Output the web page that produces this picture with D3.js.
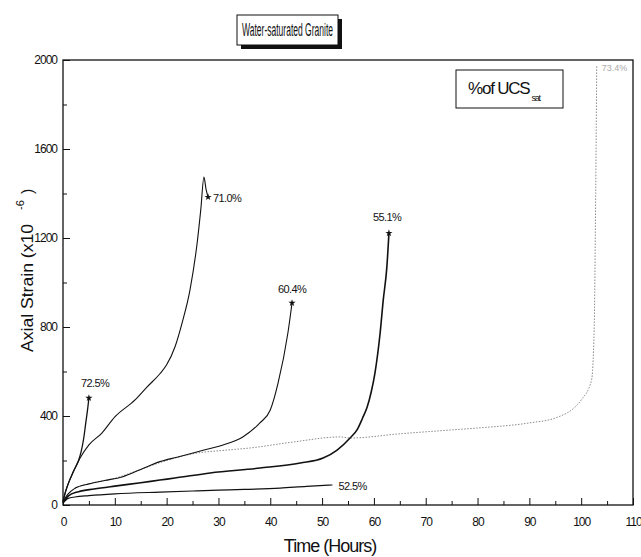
<!DOCTYPE html>
<html>
<head>
<meta charset="utf-8">
<script src="https://d3js.org/d3.v7.min.js"></script>
<style>
  body { margin: 0; background: #fff; }
  svg text { font-family: "Liberation Sans Narrow", "Liberation Sans", Arial, sans-serif; fill: #111; }
  .tick text { fill: #111; }
  .tick line { stroke: #111; }
</style>
</head>
<body>
<div id="chart"></div>
<script>
// creep curves, time in hours, axial strain in x10^-6
var t725 = [0, 0.5, 1, 2, 3, 3.5, 4, 4.4, 4.8, 5.0];
var s725 = [15, 60, 95, 150, 200, 240, 300, 370, 440, 481];

var t710 = [0, 0.4, 1, 2, 3.3, 5, 7.5, 10, 13.9, 16.2, 18.7, 20, 21.6, 23, 24.5, 25.9, 26.6, 27.2, 27.6, 28];
var s710 = [15, 54, 95, 150, 211, 270, 323, 396, 472, 530, 590, 630, 710, 820, 966, 1180, 1330, 1474, 1420, 1384];

var t604 = [0, 1, 2.3, 5, 8, 11.4, 15, 18.7, 22, 25.1, 28, 30.9, 34.7, 38, 40, 41.5, 43.4, 44.2];
var s604 = [15, 50, 75, 95, 110, 126, 160, 195, 215, 234, 252, 270, 306, 369, 427, 548, 773, 908];

var t551 = [0, 1, 3, 6, 10, 15, 18.7, 21.6, 28.4, 38, 45.8, 50.2, 52.9, 55.4, 56.8, 57.8, 58.7, 59.5, 60.2, 61.2, 61.8, 62.5, 62.9];
var s551 = [10, 40, 60, 72, 85, 100, 112, 121, 144, 166, 189, 211, 247, 301, 340, 390, 440, 510, 593, 773, 921, 1070, 1222];

var t525 = [0, 1, 2.3, 5, 10, 18.7, 25, 30, 35, 41.9, 47, 52];
var s525 = [10, 30, 36, 42, 50, 58, 63, 67, 70, 76, 84, 90];

var t734 = [0, 1, 2, 5, 10, 15, 20, 25, 31.7, 36, 44.4, 53.5, 55.4, 65, 74.7, 80, 90, 95, 100, 102, 102.5, 102.8, 103];
var s734 = [15, 50, 70, 95, 120, 160, 200, 230, 247, 256, 283, 306, 301, 320, 337, 346, 369, 391, 472, 562, 786, 1400, 1978];

var xTicks = [0, 10, 20, 30, 40, 50, 60, 70, 80, 90, 100, 110];
var yTicks = [0, 400, 800, 1200, 1600, 2000];

var width = 641, height = 557;
var margin = {left: 63, right: 633, top: 60, bottom: 505};

var svg = d3.select("#chart").append("svg")
  .attr("width", width)
  .attr("height", height);

var x = d3.scaleLinear().domain([0, 110]).range([margin.left, margin.right]);
var y = d3.scaleLinear().domain([0, 2000]).range([margin.bottom, margin.top]);

// frame
svg.append("rect")
  .attr("x", margin.left).attr("y", margin.top)
  .attr("width", margin.right - margin.left).attr("height", margin.bottom - margin.top)
  .attr("fill", "none").attr("stroke", "#111").attr("stroke-width", 1.3);

// x axis, ticks pointing in
var xMinor = d3.range(5, 110, 10);
svg.append("g")
  .attr("transform", "translate(0," + margin.bottom + ")")
  .call(d3.axisBottom(x).tickValues(xMinor).tickSize(-4).tickFormat(""))
  .call(function(g) { g.select(".domain").remove(); });
var gx = svg.append("g")
  .attr("transform", "translate(0," + margin.bottom + ")")
  .call(d3.axisBottom(x).tickValues(xTicks).tickSize(-7).tickPadding(12));
gx.select(".domain").remove();
gx.selectAll("text").attr("font-size", 12).attr("y", 12).style("letter-spacing", "-1px");

// y axis
var yMinor = d3.range(200, 2000, 400);
svg.append("g")
  .attr("transform", "translate(" + margin.left + ",0)")
  .call(d3.axisLeft(y).tickValues(yMinor).tickSize(-4).tickFormat(""))
  .call(function(g) { g.select(".domain").remove(); });
var gy = svg.append("g")
  .attr("transform", "translate(" + margin.left + ",0)")
  .call(d3.axisLeft(y).tickValues(yTicks).tickSize(-7).tickFormat(d3.format("d")));
gy.select(".domain").remove();
gy.selectAll("text").attr("font-size", 12).attr("x", -6).style("letter-spacing", "-1px");

// curves
var line = d3.line()
  .x(function(d) { return x(d[0]); })
  .y(function(d) { return y(d[1]); })
  .curve(d3.curveMonotoneX);

function pairs(t, s) { return t.map(function(v, i) { return [v, s[i]]; }); }

var series = [
  { t: t734, s: s734, color: "#8a8a8a", w: 1, dash: "1.5,1.5" },
  { t: t525, s: s525, color: "#111", w: 1.2 },
  { t: t551, s: s551, color: "#111", w: 1.6 },
  { t: t604, s: s604, color: "#111", w: 1.1 },
  { t: t710, s: s710, color: "#111", w: 1.1 },
  { t: t725, s: s725, color: "#111", w: 1.3 }
];

series.forEach(function(d) {
  svg.append("path")
    .datum(pairs(d.t, d.s))
    .attr("fill", "none")
    .attr("stroke", d.color)
    .attr("stroke-width", d.w)
    .attr("stroke-dasharray", d.dash || null)
    .attr("d", line);
});

// failure stars at the curve ends
var stars = [[t725, s725], [t710, s710], [t604, s604], [t551, s551]];
stars.forEach(function(p) {
  var n = p[0].length - 1;
  svg.append("path")
    .attr("d", d3.symbol(d3.symbolStar).size(16))
    .attr("transform", "translate(" + x(p[0][n]) + "," + y(p[1][n]) + ")")
    .attr("fill", "#111");
});

// curve labels
var labels = [
  { text: "72.5%", t: t725, s: s725, dx: -8, dy: -11 },
  { text: "71.0%", t: t710, s: s710, dx: 5, dy: 5 },
  { text: "60.4%", t: t604, s: s604, dx: -14, dy: -10 },
  { text: "55.1%", t: t551, s: s551, dx: -16, dy: -12 },
  { text: "52.5%", t: t525, s: s525, dx: 6, dy: 5 }
];
labels.forEach(function(d) {
  var n = d.t.length - 1;
  svg.append("text")
    .attr("x", x(d.t[n]) + d.dx)
    .attr("y", y(d.s[n]) + d.dy)
    .attr("font-size", 11)
    .style("letter-spacing", "-0.6px")
    .text(d.text);
});
svg.append("text")
  .attr("x", x(t734[t734.length - 1]) + 5)
  .attr("y", y(s734[s734.length - 1]) + 6)
  .attr("font-size", 9)
  .style("fill", "#aaa")
  .text("73.4%");

// title box with shadow
svg.append("rect").attr("x", 241).attr("y", 19).attr("width", 101).attr("height", 30).attr("fill", "#111");
svg.append("rect").attr("x", 237).attr("y", 15).attr("width", 101).attr("height", 30)
  .attr("fill", "#fff").attr("stroke", "#111").attr("stroke-width", 1);
svg.append("text").attr("x", 242).attr("y", 36)
  .attr("font-size", 18)
  .attr("textLength", 91).attr("lengthAdjust", "spacingAndGlyphs")
  .text("Water-saturated Granite");

// legend box
svg.append("rect").attr("x", 456).attr("y", 70).attr("width", 107).attr("height", 38)
  .attr("fill", "#fff").attr("stroke", "#111").attr("stroke-width", 1);
var lg = svg.append("text").attr("x", 468).attr("y", 94).attr("font-size", 17).style("letter-spacing", "-1.2px");
lg.append("tspan").text("%of UCS");
lg.append("tspan").attr("font-size", 9).attr("dy", 7).attr("dx", 2).text("sat");

// axis titles
svg.append("text")
  .attr("x", 330).attr("y", 552)
  .attr("text-anchor", "middle")
  .attr("font-size", 18)
  .style("letter-spacing", "-1px")
  .text("Time (Hours)");

svg.append("text")
  .attr("transform", "translate(33,352) rotate(-90)")
  .attr("font-size", 16)
  .attr("textLength", 128).attr("lengthAdjust", "spacingAndGlyphs")
  .text("Axial Strain (x10");
svg.append("text")
  .attr("transform", "translate(24,210) rotate(-90)")
  .attr("font-size", 11)
  .text("-6");
svg.append("text")
  .attr("transform", "translate(33,194) rotate(-90)")
  .attr("font-size", 16)
  .text(")");
</script>
</body>
</html>
